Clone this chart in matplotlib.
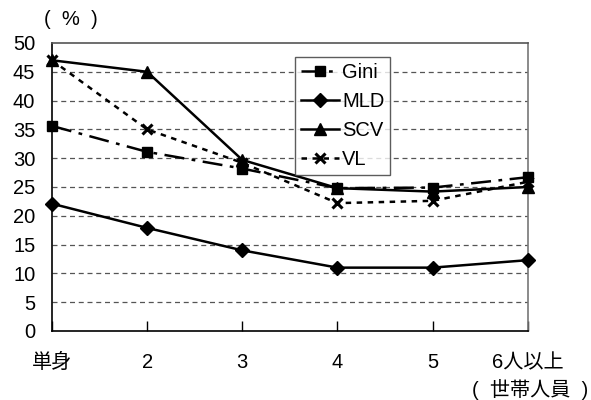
import numpy as np
import matplotlib
matplotlib.use("Agg")
from matplotlib import pyplot as plt

plt.rcParams['font.family'] = ['Liberation Sans', 'Noto Sans CJK JP', 'DejaVu Sans']

# 世帯人員
categories = ['単身', '2', '3', '4', '5', '6人以上']
gini = [35.6, 31.1, 28.2, 24.8, 24.9, 26.7]
mld = [22.1, 17.9, 14.0, 11.0, 11.0, 12.3]
scv = [47.0, 45.0, 29.7, 24.8, 24.2, 25.0]
vl = [47.0, 35.0, 29.2, 22.2, 22.6, 25.9]

fig = plt.figure(figsize=(5.91, 4), dpi=100)
ax = fig.add_axes([0.088, 0.1725, 0.805, 0.72])
x = np.arange(len(categories))

ax.plot(x, gini, color='black', lw=1.8, ls=(0, (8, 3, 1.5, 3)), marker='s', ms=7.5, label='Gini', clip_on=False, zorder=3)
ax.plot(x, mld, color='black', lw=1.8, ls='-', marker='D', ms=7, label='MLD', clip_on=False, zorder=3)
ax.plot(x, scv, color='black', lw=1.8, ls='-', marker='^', ms=8, label='SCV', clip_on=False, zorder=3)
ax.plot(x, vl, color='black', lw=1.8, ls=(0, (2.2, 2.2)), marker='x', ms=7.5, mew=2.2, label='VL', clip_on=False, zorder=3)

ax.set_xlim(0, 5)
ax.set_ylim(0, 50)
ax.set_yticks(range(0, 51, 5))
ax.set_xticks(x)
ax.set_xticklabels(categories)
for yv in range(5, 50, 5):
    ax.axhline(yv, color='#555555', lw=0.9, ls=(0, (4, 3)), zorder=1)

ax.tick_params(axis='y', length=0, labelsize=14.5, pad=12)
ax.tick_params(axis='x', direction='in', length=7, width=1, labelsize=14.5, pad=16)
ax.spines['left'].set_color('black')
ax.spines['bottom'].set_color('black')
ax.spines['top'].set_color('#555555')
ax.spines['right'].set_color('#777777')
for s in ax.spines.values():
    s.set_linewidth(1.2)

leg = ax.legend(loc='upper left', bbox_to_anchor=(0.51, 0.952), fontsize=14.5, frameon=True,
                fancybox=False, edgecolor='#333333', handlelength=1.9, handletextpad=0.15,
                labelspacing=0.5, borderpad=0.3, borderaxespad=0)
leg.get_frame().set_linewidth(1.0)

fig.text(0.075, 0.952, '(  %  )', fontsize=14.5, ha='left', va='center')
fig.text(0.995, 0.025, '(  世帯人員  )', fontsize=14.5, ha='right', va='center')

fig.savefig('out.png', dpi=100)
